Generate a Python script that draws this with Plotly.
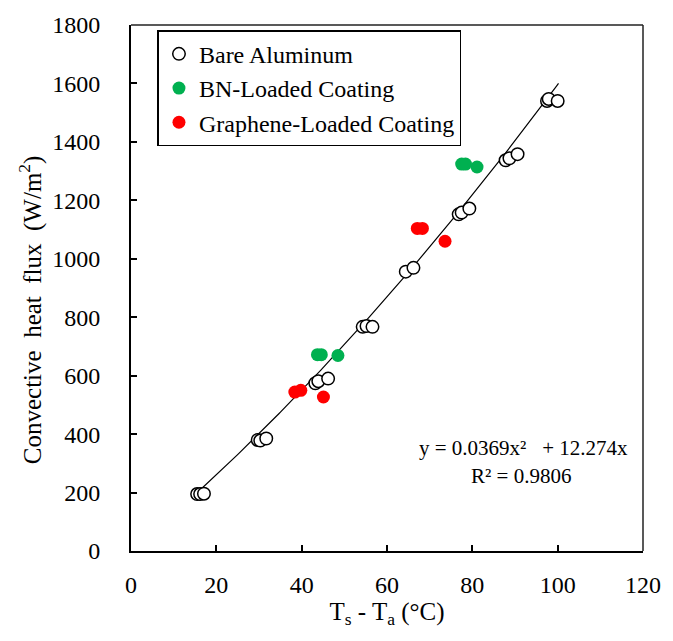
import plotly.graph_objects as go
import numpy as np

# ---- data ----
bare_x = [15.5, 16.2, 17.1, 29.7, 30.3, 31.7, 43.2, 43.9, 46.2, 54.3, 55.2, 56.6,
          64.4, 66.2, 76.8, 77.5, 79.3, 87.8, 88.7, 90.6, 97.5, 97.9, 100.0]
bare_y = [195, 195, 196, 380, 378, 385, 574, 581, 590, 767, 770, 767,
          956, 969, 1152, 1158, 1172, 1337, 1344, 1358, 1540, 1547, 1540]

bn_x = [43.7, 44.6, 48.5, 77.5, 78.4, 81.1]
bn_y = [672, 672, 669, 1324, 1324, 1314]

gr_x = [38.4, 39.8, 45.1, 67.1, 68.3, 73.6]
gr_y = [544, 550, 527, 1104, 1104, 1060]

# fitted trendline coefficients as printed on the chart
fit_a = 0.0369
fit_b = 12.274
fit_label = "y = 0.0369x²\u00a0\u00a0 + 12.274x"
r2_label = "R² = 0.9806"

x_ticks = [0, 20, 40, 60, 80, 100, 120]
y_ticks = [0, 200, 400, 600, 800, 1000, 1200, 1400, 1600, 1800]

x_title = "T<sub>s</sub> - T<sub>a</sub> (°C)"
y_title = "Convective\u00a0\u00a0heat\u00a0\u00a0flux\u00a0\u00a0(W/m<sup>2</sup>)"

FONT = "Liberation Serif"

all_x = bare_x + bn_x + gr_x
fx = np.linspace(min(all_x), max(all_x) + 0.2, 200)
fy = fit_a * fx ** 2 + fit_b * fx

fig = go.Figure()
fig.add_trace(go.Scatter(x=fx, y=fy, mode="lines",
                         line=dict(color="black", width=1.2),
                         showlegend=False, hoverinfo="skip"))
fig.add_trace(go.Scatter(x=bare_x, y=bare_y, mode="markers", name="Bare Aluminum",
                         legendgroup="a",
                         marker=dict(symbol="circle", size=12.5, color="white",
                                     line=dict(color="black", width=1.5))))
fig.add_trace(go.Scatter(x=bn_x, y=bn_y, mode="markers", name="BN-Loaded Coating",
                         legendgroup="b",
                         marker=dict(symbol="circle", size=13, color="#00B050",
                                     line=dict(width=0))))
fig.add_trace(go.Scatter(x=gr_x, y=gr_y, mode="markers", name="Graphene-Loaded Coating",
                         legendgroup="c",
                         marker=dict(symbol="circle", size=13, color="#FF0000",
                                     line=dict(width=0))))

axis_common = dict(showline=True, linewidth=2, linecolor="black", ticks="inside",
                   ticklen=6, tickwidth=1.5, tickcolor="black", showgrid=False,
                   zeroline=False, tickfont=dict(family=FONT, size=24, color="black"))

fig.update_layout(
    width=673, height=641,
    margin=dict(l=131, r=20, t=18, b=90),
    plot_bgcolor="white", paper_bgcolor="white",
    font=dict(family=FONT, size=24, color="black"),
    xaxis=dict(range=[0, 120], tickvals=x_ticks, ticklabelstandoff=11,
               title=dict(text=x_title, font=dict(family=FONT, size=25), standoff=5),
               **axis_common),
    yaxis=dict(range=[0, 1800], tickvals=y_ticks, ticklabelstandoff=24,
               **axis_common),
    legend=dict(x=0.0517, y=0.99, xanchor="left", yanchor="top",
                bordercolor="black", borderwidth=1.5, bgcolor="white",
                font=dict(family=FONT, size=24, color="black"),
                traceorder="grouped", tracegroupgap=0),
    showlegend=True,
)

# top and right frame lines
fig.add_shape(type="line", xref="paper", yref="paper", x0=0, x1=1, y0=1, y1=1,
              line=dict(color="#222", width=1.5))
fig.add_shape(type="line", xref="paper", yref="paper", x0=1, x1=1, y0=0, y1=1,
              line=dict(color="#222", width=1.5))

# y-axis title (placed as rotated text, slightly below the axis centre as in the source)
fig.add_annotation(xref="paper", yref="paper", x=-0.197, y=0.458, text=y_title,
                   textangle=-90, showarrow=False,
                   font=dict(family=FONT, size=25, color="black"),
                   xanchor="center", yanchor="middle")

fig.add_annotation(xref="paper", yref="paper", x=0.7665, y=0.195, text=fit_label,
                   showarrow=False, font=dict(family=FONT, size=21, color="black"),
                   xanchor="center", yanchor="middle")
fig.add_annotation(xref="paper", yref="paper", x=0.7625, y=0.1426, text=r2_label,
                   showarrow=False, font=dict(family=FONT, size=21, color="black"),
                   xanchor="center", yanchor="middle")

fig.write_html("out.html")
